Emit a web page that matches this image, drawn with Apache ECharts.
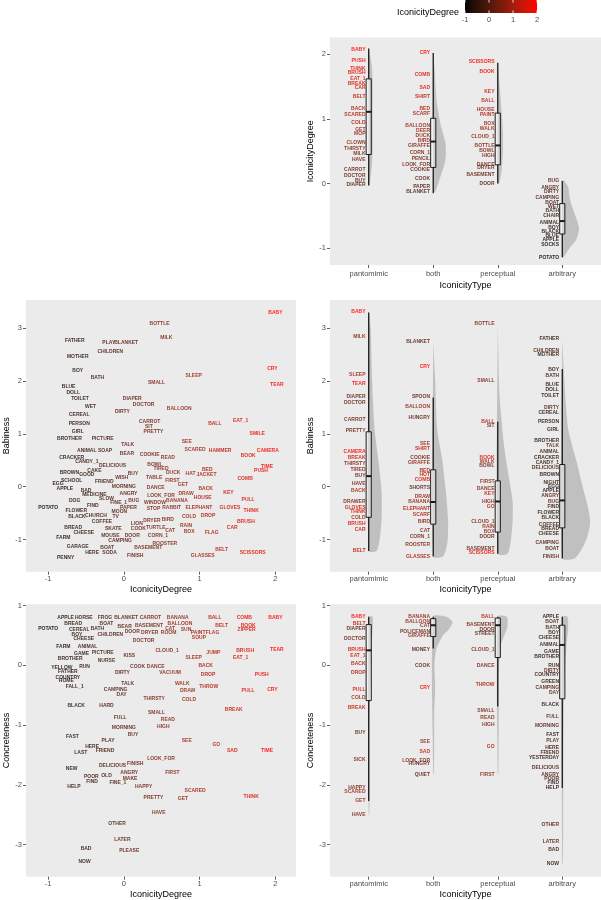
<!DOCTYPE html>
<html>
<head>
<meta charset="utf-8">
<script src="https://cdn.jsdelivr.net/npm/echarts/dist/echarts.min.js"></script>
<style>
  html, body { margin: 0; padding: 0; background: #fff; }
  #main { width: 601px; height: 900px; }
</style>
</head>
<body>
<div id="main"></div>
<script>
var types = ['pantomimic', 'both', 'perceptual', 'arbitrary'];
var legendTicks = [-1, 0, 1, 2];

// top panel: IconicityDegree by IconicityType  [word, degree]
var topPantomimic = [['BABY',2.07],['PUSH',1.90],['THINK',1.78],['BRUSH',1.71],['EAT_1',1.63],['BREAK',1.55],['CAR',1.48],['BELT',1.35],['BACK',1.16],['SCARED',1.07],['COLD',0.95],['GET',0.83],['MOP',0.78],['CLOWN',0.63],['THIRSTY',0.54],['MILK',0.47],['HAVE',0.37],['CARROT',0.22],['DOCTOR',0.13],['BUY',0.05],['DIAPER',-0.02]];
var topBoth = [['CRY',2.02],['COMB',1.68],['SAD',1.48],['SHIRT',1.35],['BED',1.16],['SCARF',1.08],['BALLOON',0.89],['DEER',0.82],['DUCK',0.74],['BIRD',0.66],['GIRAFFE',0.59],['CORN_1',0.48],['PENCIL',0.38],['LOOK_FOR',0.30],['COOKIE',0.22],['COOK',0.08],['PAPER',-0.05],['BLANKET',-0.13]];
var topPerceptual = [['SCISSORS',1.88],['BOOK',1.73],['KEY',1.43],['BALL',1.28],['HOUSE',1.15],['PAINT',1.06],['BOX',0.92],['WALK',0.85],['CLOUD_1',0.72],['BOTTLE',0.59],['BOWL',0.51],['HIGH',0.44],['DANCE',0.30],['DRYER',0.25],['BASEMENT',0.14],['DOOR',0.0]];
var topArbitrary = [['BUG',0.05],['ANGRY',-0.06],['DIRTY',-0.13],['CAMPING',-0.21],['BOAT',-0.30],['WET',-0.36],['BATH',-0.42],['CHAIR',-0.50],['ANIMAL',-0.60],['BOY',-0.68],['BLACK',-0.74],['BLUE',-0.81],['APPLE',-0.87],['SOCKS',-0.94],['POTATO',-1.14]];
// box stats [lower whisker, q1, median, q3, upper whisker]
var topBoxes = [[-0.03,0.45,1.11,1.62,2.09],[-0.15,0.25,0.65,1.01,2.02],[0.0,0.29,0.59,1.09,1.87],[-1.14,-0.78,-0.58,-0.31,0.04]];
// half violin outline [y, half width]
var topViolins = [
  [[2.09,0.0],[1.8,0.05],[1.5,0.06],[1.2,0.06],[0.9,0.06],[0.6,0.06],[0.3,0.05],[-0.03,0.01]],
  [[2.02,0.0],[1.8,0.02],[1.3,0.05],[0.93,0.11],[0.62,0.19],[0.37,0.19],[0.1,0.11],[-0.13,0.03]],
  [[1.88,0.0],[1.5,0.03],[1.1,0.06],[0.8,0.08],[0.5,0.08],[0.2,0.06],[0.0,0.02]],
  [[0.05,0.02],[-0.05,0.09],[-0.25,0.12],[-0.55,0.22],[-0.7,0.26],[-0.86,0.22],[-1.0,0.11],[-1.14,0.02]]
];

// middle left: [word, IconicityDegree, Babiness]
var babinessWords = [['BABY',2.0,3.29],['BOTTLE',0.47,3.08],['MILK',0.56,2.83],['FATHER',-0.65,2.76],['PLAY',-0.2,2.72],['BLANKET',0.03,2.72],['MOTHER',-0.61,2.47],['CHILDREN',-0.18,2.56],['BOY',-0.61,2.20],['BATH',-0.35,2.07],['CRY',1.96,2.23],['SLEEP',0.92,2.10],['SMALL',0.43,1.98],['TEAR',2.02,1.93],['BLUE',-0.73,1.89],['DOLL',-0.67,1.78],['TOILET',-0.58,1.67],['WET',-0.44,1.51],['DIAPER',0.11,1.67],['DOCTOR',0.26,1.56],['DIRTY',-0.02,1.43],['BALLOON',0.73,1.48],['CEREAL',-0.59,1.36],['CARROT',0.34,1.23],['SIT',0.33,1.13],['PRETTY',0.39,1.04],['PERSON',-0.59,1.20],['GIRL',-0.61,1.05],['BROTHER',-0.72,0.91],['PICTURE',-0.28,0.91],['BALL',1.20,1.20],['EAT_1',1.54,1.25],['SMILE',1.76,1.01],['TALK',0.05,0.79],['SEE',0.83,0.85],
['ANIMAL',-0.49,0.68],['SOAP',-0.25,0.68],['BEAR',0.04,0.63],['SCARED',0.94,0.71],['HAMMER',1.27,0.69],['CAMERA',1.90,0.69],['COOKIE',0.34,0.60],['READ',0.58,0.56],['BOOK',1.64,0.59],['CRACKER',-0.69,0.56],['CANDY_1',-0.49,0.47],['DELICIOUS',-0.15,0.39],['BOWL',0.41,0.42],['TIRED',0.49,0.35],['CAKE',-0.39,0.31],['BED',1.10,0.33],['TIME',1.89,0.38],['PUSH',1.81,0.30],['BROWN',-0.72,0.27],['GOOD',-0.49,0.22],['WISH',-0.03,0.18],['BUY',0.12,0.25],['DUCK',0.65,0.27],['HAT',0.88,0.25],['JACKET',1.09,0.23],['TABLE',0.40,0.18],['FIRST',0.64,0.12],['COMB',1.60,0.15],['SCHOOL',-0.69,0.11],['FRIEND',-0.26,0.09],['GET',0.78,0.03],['EGG',-0.87,0.05],['APPLE',-0.78,-0.04],['MORNING',0.0,0.01],['DANCE',0.42,-0.02],['BACK',1.08,-0.04],['KEY',1.38,-0.11],['BAD',-0.50,-0.08],['MEDICINE',-0.39,-0.15],['SLOW',-0.23,-0.23],['ANGRY',0.06,-0.14],['LOOK_FOR',0.49,-0.16],['DRAW',0.82,-0.14],['HOUSE',1.04,-0.21],['DOG',-0.65,-0.26],['FINE_1',-0.07,-0.30],['BUG',0.13,-0.26],['WINDOW',0.41,-0.30],['BANANA',0.70,-0.26],['PULL',1.64,-0.25],['POTATO',-1.0,-0.39],['FIND',-0.41,-0.35],['PAPER',0.06,-0.39],['STOP',0.39,-0.42],['RABBIT',0.63,-0.40],['ELEPHANT',0.99,-0.39],['GLOVES',1.40,-0.39],['THINK',1.68,-0.46],['FLOWER',-0.63,-0.46],['MOON',-0.06,-0.47],['BLACK',-0.62,-0.56],['CHURCH',-0.37,-0.54],['TV',-0.11,-0.56],['DRYER',0.37,-0.64],['BIRD',0.58,-0.63],['COLD',0.86,-0.56],['DROP',1.11,-0.54],['BRUSH',1.61,-0.67],['COFFEE',-0.29,-0.67],['LION',0.17,-0.70],['RAIN',0.82,-0.73],['CAR',1.43,-0.78],['BREAD',-0.67,-0.77],['SKATE',-0.14,-0.79],['COOK',0.19,-0.79],['TURTLE',0.42,-0.78],['CAT',0.61,-0.83],['BOX',0.86,-0.85],['FLAG',1.16,-0.87],['CHEESE',-0.53,-0.87],['MOUSE',-0.18,-0.92],['DOOR',0.11,-0.93],['CORN_1',0.45,-0.92],['FARM',-0.80,-0.97],['CAMPING',-0.05,-1.03],['ROOSTER',0.54,-1.08],['GARAGE',-0.61,-1.13],['BOAT',-0.22,-1.16],['BASEMENT',0.32,-1.16],['BELT',1.29,-1.20],['HERE',-0.42,-1.25],['SODA',-0.19,-1.25],['SCISSORS',1.70,-1.25],['FINISH',0.15,-1.30],['GLASSES',1.04,-1.30],['PENNY',-0.77,-1.35]];

// middle right: Babiness by IconicityType  [word, babiness]
var babyPantomimic = [['BABY',3.31],['MILK',2.84],['SLEEP',2.12],['TEAR',1.95],['DIAPER',1.71],['DOCTOR',1.59],['CARROT',1.27],['PRETTY',1.07],['CAMERA',0.67],['BREAK',0.56],['THIRSTY',0.43],['TIRED',0.32],['BUY',0.21],['HAVE',0.06],['BACK',-0.07],['DRAWER',-0.28],['GLOVES',-0.40],['THINK',-0.48],['COLD',-0.58],['BRUSH',-0.70],['CAR',-0.81],['BELT',-1.22]];
var babyBoth = [['BLANKET',2.74],['CRY',2.27],['SPOON',1.70],['BALLOON',1.51],['HUNGRY',1.31],['SEE',0.81],['SHIRT',0.72],['COOKIE',0.56],['GIRAFFE',0.45],['BED',0.31],['HOT',0.22],['COMB',0.13],['SHORTS',-0.01],['DRAW',-0.18],['BANANA',-0.29],['ELEPHANT',-0.42],['SCARF',-0.53],['BIRD',-0.66],['CAT',-0.84],['CORN_1',-0.94],['ROOSTER',-1.10],['GLASSES',-1.32]];
var babyPerceptual = [['BOTTLE',3.09],['SMALL',2.00],['BALL',1.23],['SIT',1.15],['BOOK',0.56],['WALK',0.48],['BOWL',0.40],['FIRST',0.09],['DANCE',-0.04],['KEY',-0.14],['HIGH',-0.28],['GO',-0.37],['CLOUD_1',-0.66],['RAIN',-0.75],['BOX',-0.86],['DOOR',-0.95],['BASEMENT',-1.17],['SCISSORS',-1.25]];
var babyArbitrary = [['FATHER',2.80],['CHILDREN',2.58],['MOTHER',2.50],['BOY',2.21],['BATH',2.10],['BLUE',1.94],['DOLL',1.83],['TOILET',1.72],['DIRTY',1.49],['CEREAL',1.40],['PERSON',1.23],['GIRL',1.08],['BROTHER',0.88],['TALK',0.78],['ANIMAL',0.66],['CRACKER',0.55],['CANDY_1',0.46],['DELICIOUS',0.36],['BROWN',0.23],['NIGHT',0.08],['EGG',0.01],['APPLE',-0.08],['ANGRY',-0.17],['BUG',-0.29],['FIND',-0.37],['FLOWER',-0.50],['BLACK',-0.59],['COFFEE',-0.71],['BREAD',-0.80],['CHEESE',-0.89],['CAMPING',-1.06],['BOAT',-1.18],['FINISH',-1.33]];
var babyBoxes = [[-1.22,-0.58,0.20,1.04,3.30],[-1.32,-0.71,-0.29,0.32,1.69],[-1.27,-0.86,-0.28,0.11,1.23],[-1.36,-0.78,-0.26,0.42,2.23]];
var babyViolins = [
  [[3.31,0.0],[3.0,0.03],[2.1,0.05],[1.1,0.09],[0.5,0.15],[-0.1,0.2],[-0.6,0.2],[-1.0,0.17],[-1.22,0.12]],
  [[2.74,0.0],[2.0,0.03],[1.1,0.06],[0.5,0.14],[-0.15,0.2],[-0.65,0.23],[-1.05,0.22],[-1.32,0.15]],
  [[3.09,0.0],[1.7,0.03],[0.75,0.1],[0.12,0.18],[-0.28,0.23],[-0.66,0.23],[-1.04,0.2],[-1.27,0.15]],
  [[2.8,0.0],[2.05,0.03],[1.1,0.09],[0.48,0.22],[-0.02,0.32],[-0.4,0.4],[-0.7,0.43],[-1.04,0.36],[-1.35,0.2]]
];

// bottom left: [word, IconicityDegree, Concreteness]
var concretenessWords = [['APPLE',-0.77,0.79],['HORSE',-0.53,0.79],['FROG',-0.25,0.79],['BLANKET',0.03,0.79],['CARROT',0.35,0.79],['BANANA',0.71,0.79],['BALL',1.20,0.79],['COMB',1.59,0.79],['BABY',2.0,0.79],['BREAD',-0.67,0.69],['BOAT',-0.23,0.70],['BALLOON',0.74,0.69],['BELT',1.29,0.67],['BOOK',1.64,0.67],['POTATO',-1.0,0.61],['CEREAL',-0.59,0.59],['BATH',-0.35,0.61],['BEAR',0.01,0.64],['BASEMENT',0.33,0.66],['CAT',0.61,0.62],['SUN',0.82,0.59],['ZIPPER',1.62,0.59],['BOY',-0.62,0.52],['CHILDREN',-0.18,0.52],['DOOR',0.11,0.56],['DRYER',0.34,0.54],['ROOM',0.59,0.54],['PAINT',0.98,0.54],['FLAG',1.17,0.54],['SOUP',0.99,0.46],['CHEESE',-0.53,0.44],['DOCTOR',0.26,0.41],['FARM',-0.80,0.31],['ANIMAL',-0.48,0.32],['PICTURE',-0.28,0.22],['GAME',-0.56,0.20],['KISS',0.07,0.17],['CLOUD_1',0.57,0.24],['JUMP',1.18,0.22],['BRUSH',1.60,0.24],['TEAR',2.02,0.26],['BROTHER',-0.71,0.11],['NURSE',-0.23,0.07],['SLEEP',0.92,0.13],['EAT_1',1.54,0.12],['YELLOW',-0.82,-0.04],['RUN',-0.52,-0.02],['FATHER',-0.74,-0.11],['COOK',0.18,-0.02],['DANCE',0.42,-0.02],['BACK',1.08,-0.01],['DIRTY',-0.02,-0.13],['VACUUM',0.61,-0.13],['DROP',1.11,-0.15],['PUSH',1.82,-0.15],['COUNTRY',-0.74,-0.20],['HOME',-0.76,-0.26],['FALL_1',-0.65,-0.35],['TALK',0.05,-0.31],['CAMPING',-0.11,-0.40],['DAY',-0.03,-0.49],['WALK',0.77,-0.31],['THROW',1.12,-0.35],['DRAW',0.84,-0.43],['PULL',1.64,-0.43],['CRY',1.96,-0.40],['THIRSTY',0.40,-0.56],['COLD',0.86,-0.57],['BLACK',-0.63,-0.67],['HARD',-0.23,-0.67],['BREAK',1.45,-0.74],['SMALL',0.43,-0.79],['FULL',-0.05,-0.88],['READ',0.58,-0.91],['HIGH',0.52,-1.03],['MORNING',0.0,-1.05],['BUY',0.12,-1.16],['FAST',-0.68,-1.19],['PLAY',-0.21,-1.26],['SEE',0.83,-1.26],['GO',1.22,-1.33],['HERE',-0.42,-1.36],['SAD',1.43,-1.43],['TIME',1.89,-1.43],['LAST',-0.57,-1.46],['FRIEND',-0.25,-1.43],['LOOK_FOR',0.49,-1.56],['DELICIOUS',-0.15,-1.67],['FINISH',0.15,-1.65],['NEW',-0.69,-1.73],['FIRST',0.64,-1.79],['ANGRY',0.07,-1.79],['POOR',-0.43,-1.86],['OLD',-0.23,-1.85],['MAKE',0.08,-1.90],['FIND',-0.42,-1.95],['FINE_1',-0.08,-1.96],['HELP',-0.66,-2.03],['HAPPY',0.26,-2.03],['SCARED',0.94,-2.10],['PRETTY',0.39,-2.22],['GET',0.78,-2.23],['THINK',1.68,-2.20],['HAVE',0.46,-2.47],['OTHER',-0.09,-2.64],['LATER',-0.02,-2.92],['BAD',-0.50,-3.06],['PLEASE',0.07,-3.10],['NOW',-0.52,-3.29]];

// bottom right: Concreteness by IconicityType  [word, concreteness]
var concPantomimic = [['BABY',0.81],['BELT',0.70],['DIAPER',0.61],['DOCTOR',0.45],['BRUSH',0.27],['EAT_1',0.16],['BACK',0.03],['DROP',-0.12],['PULL',-0.40],['COLD',-0.54],['BREAK',-0.71],['BUY',-1.12],['SICK',-1.57],['HAPPY',-2.05],['SCARED',-2.12],['GET',-2.26],['HAVE',-2.50]];
var concBoth = [['BANANA',0.81],['BALLOON',0.73],['CAT',0.66],['POLICEMAN',0.57],['GIRAFFE',0.49],['MONEY',0.27],['COOK',0.0],['CRY',-0.37],['SEE',-1.27],['SAD',-1.45],['LOOK_FOR',-1.59],['HUNGRY',-1.65],['QUIET',-1.82]];
var concPerceptual = [['BALL',0.81],['BASEMENT',0.68],['DOOR',0.60],['STREET',0.53],['CLOUD_1',0.27],['DANCE',0.0],['THROW',-0.32],['SMALL',-0.75],['READ',-0.87],['HIGH',-0.99],['GO',-1.36],['FIRST',-1.82]];
var concArbitrary = [['APPLE',0.81],['BOAT',0.73],['BATH',0.63],['BOY',0.54],['CHEESE',0.47],['ANIMAL',0.35],['GAME',0.23],['BROTHER',0.15],['RUN',0.0],['DIRTY',-0.09],['COUNTRY',-0.16],['GREEN',-0.27],['CAMPING',-0.37],['DAY',-0.46],['BLACK',-0.65],['FULL',-0.85],['MORNING',-1.01],['FAST',-1.16],['PLAY',-1.26],['HERE',-1.38],['FRIEND',-1.46],['YESTERDAY',-1.54],['DELICIOUS',-1.71],['ANGRY',-1.82],['POOR',-1.90],['FIND',-1.97],['HELP',-2.04],['OTHER',-2.66],['LATER',-2.95],['BAD',-3.09],['NOW',-3.32]];
var concBoxes = [[-2.27,-0.59,0.25,0.68,0.81],[0.28,0.48,0.67,0.78,0.81],[-0.69,0.13,0.67,0.79,0.81],[-2.05,-0.56,0.34,0.67,0.81]];
var concViolins = [
  [[0.81,0.06],[0.6,0.06],[0.3,0.04],[0.0,0.03],[-0.5,0.02],[-1.0,0.015],[-1.5,0.015],[-2.0,0.015],[-2.5,0.01]],
  [[0.81,0.2],[0.72,0.3],[0.6,0.24],[0.5,0.15],[0.28,0.05],[0.0,0.02],[-0.37,0.03],[-0.8,0.015],[-1.3,0.015],[-1.82,0.01]],
  [[0.81,0.14],[0.65,0.15],[0.5,0.1],[0.35,0.05],[0.0,0.02],[-0.5,0.015],[-1.0,0.015],[-1.82,0.01]],
  [[0.81,0.08],[0.6,0.09],[0.4,0.07],[0.05,0.045],[-0.5,0.025],[-1.0,0.02],[-2.0,0.015],[-3.32,0.01]]
];

// degree of words that only show up in the by-type panels
var extraIconicity = [['DRAWER',0.4],['SPOON',0.0],['HUNGRY',0.1],['SHORTS',0.1],['HOT',1.2],['NIGHT',-0.4],['POLICEMAN',0.3],['MONEY',-0.1],['SICK',0.5],['QUIET',0.0],['STREET',-0.1],['GREEN',-0.6],['YESTERDAY',-0.6]];

var iconicity = {};
function remember(word, v) { if (!(word in iconicity)) iconicity[word] = v; }
babinessWords.forEach(function (d) { remember(d[0], d[1]); });
concretenessWords.forEach(function (d) { remember(d[0], d[1]); });
[topPantomimic, topBoth, topPerceptual, topArbitrary].forEach(function (g) { g.forEach(function (d) { remember(d[0], d[1]); }); });
extraIconicity.forEach(function (d) { remember(d[0], d[1]); });

// black -> red through Lab, like scale_colour_gradient
function colorFor(v, alpha) {
  var t = Math.max(0, Math.min(1, (v + 1) / 3));
  var L = 53.24 * t, A = 80.09 * t, B = 67.20 * t;
  var fy = (L + 16) / 116, fx = fy + A / 500, fz = fy - B / 200;
  function finv(f) { return f > 6 / 29 ? f * f * f : (f - 16 / 116) / 7.787; }
  var X = 0.95047 * finv(fx), Y = finv(fy), Z = 1.08883 * finv(fz);
  var r = 3.2406 * X - 1.5372 * Y - 0.4986 * Z;
  var g = -0.9689 * X + 1.8758 * Y + 0.0415 * Z;
  var b = 0.0557 * X - 0.2040 * Y + 1.0570 * Z;
  function gam(c) {
    c = Math.max(0, Math.min(1, c));
    return Math.round(255 * (c <= 0.0031308 ? 12.92 * c : 1.055 * Math.pow(c, 1 / 2.4) - 0.055));
  }
  return 'rgba(' + gam(r) + ',' + gam(g) + ',' + gam(b) + ',' + (alpha == null ? 1 : alpha) + ')';
}

var FONT = '"Liberation Sans", Arial, sans-serif';
var LABEL_FONT = 'bold 5px ' + FONT;
var LABEL_ALPHA = 0.85;

function textSeries(gi, items, align) {
  return {
    type: 'custom', xAxisIndex: gi, yAxisIndex: gi, z: 5, silent: true,
    data: items.map(function (d) { return [d.x, d.y]; }),
    renderItem: function (params, api) {
      var d = items[params.dataIndex];
      var p = api.coord([d.x, d.y]);
      return {
        type: 'text', x: p[0], y: p[1],
        style: {
          text: d.word, fill: colorFor(d.c, LABEL_ALPHA), font: LABEL_FONT,
          align: align, verticalAlign: 'middle', textAlign: align, textVerticalAlign: 'middle'
        }
      };
    }
  };
}

function typeItems(groups, valueIsDegree) {
  var out = [];
  groups.forEach(function (g, i) {
    g.forEach(function (d) {
      out.push({ word: d[0], x: i + 1 - 0.05, y: d[1], c: valueIsDegree ? d[1] : iconicity[d[0]] });
    });
  });
  return out;
}

function scatterItems(rows) {
  return rows.map(function (d) { return { word: d[0], x: d[1], y: d[2], c: d[1] }; });
}

function violinSeries(gi, profiles, boxes) {
  return {
    type: 'custom', xAxisIndex: gi, yAxisIndex: gi, z: 3, silent: true,
    data: boxes.map(function (b, i) { return [i + 1, b[2]]; }),
    renderItem: function (params, api) {
      var i = params.dataIndex, x = i + 1, prof = profiles[i], b = boxes[i];
      var pts = [api.coord([x, prof[0][0]])];
      prof.forEach(function (p) { pts.push(api.coord([x + p[1], p[0]])); });
      pts.push(api.coord([x, prof[prof.length - 1][0]]));
      var c = function (y) { return api.coord([x, y]); };
      var hw = 0.04;
      var lt = api.coord([x - hw, b[3]]), rb = api.coord([x + hw, b[1]]);
      var ml = api.coord([x - hw, b[2]]), mr = api.coord([x + hw, b[2]]);
      var stroke = '#1a1a1a';
      return {
        type: 'group', children: [
          { type: 'polygon', shape: { points: pts, smooth: 0.25 }, style: { fill: '#BEBEBE', opacity: 0.95 } },
          { type: 'line', shape: { x1: c(b[0])[0], y1: c(b[0])[1], x2: c(b[1])[0], y2: c(b[1])[1] }, style: { stroke: stroke, lineWidth: 1.3 } },
          { type: 'line', shape: { x1: c(b[3])[0], y1: c(b[3])[1], x2: c(b[4])[0], y2: c(b[4])[1] }, style: { stroke: stroke, lineWidth: 1.3 } },
          { type: 'rect', shape: { x: lt[0], y: lt[1], width: rb[0] - lt[0], height: rb[1] - lt[1] }, style: { fill: 'rgba(255,255,255,0.35)', stroke: stroke, lineWidth: 1 } },
          { type: 'line', shape: { x1: ml[0], y1: ml[1], x2: mr[0], y2: mr[1] }, style: { stroke: stroke, lineWidth: 2 } }
        ]
      };
    }
  };
}

var legendSeries = {
  type: 'custom', xAxisIndex: 5, yAxisIndex: 5, silent: true,
  data: [[-1, 0], [2, 1]],
  renderItem: function (params, api) {
    if (params.dataIndex > 0) return null;
    var a = api.coord([-1, 0]), b = api.coord([2, 1]);
    var stops = [];
    for (var k = 0; k <= 12; k++) stops.push({ offset: k / 12, color: colorFor(-1 + 3 * k / 12, 1) });
    var kids = [{ type: 'rect', shape: { x: a[0], y: b[1], width: b[0] - a[0], height: a[1] - b[1] },
      style: { fill: new echarts.graphic.LinearGradient(0, 0, 1, 0, stops) } }];
    legendTicks.forEach(function (v) {
      var lo = api.coord([v, 0]), hi = api.coord([v, 1]);
      kids.push({ type: 'line', shape: { x1: lo[0], y1: lo[1], x2: lo[0], y2: lo[1] - 2.6 }, style: { stroke: '#fff', lineWidth: 0.8 } });
      kids.push({ type: 'line', shape: { x1: hi[0], y1: hi[1], x2: hi[0], y2: hi[1] + 2.6 }, style: { stroke: '#fff', lineWidth: 0.8 } });
    });
    return { type: 'group', children: kids };
  }
};

function panelGrid(left, top, width, height) {
  return { left: left, top: top, width: width, height: height, show: true, backgroundColor: '#EBEBEB', borderWidth: 0, containLabel: false };
}

function valueAxis(gi, min, max, ticks, name, gap, labelMargin) {
  return {
    type: 'value', gridIndex: gi, min: min, max: max,
    name: name, nameLocation: 'middle', nameGap: gap,
    nameTextStyle: { color: '#000', fontSize: 9, fontFamily: FONT },
    axisLine: { show: false, onZero: false },
    axisTick: { show: true, length: 3, customValues: ticks, lineStyle: { color: '#333', width: 0.8 } },
    axisLabel: { color: '#4D4D4D', fontSize: 7.5, fontFamily: FONT, margin: labelMargin, customValues: ticks },
    splitLine: { show: false }
  };
}

function typeAxis(gi, name, gap, labelMargin) {
  var ax = valueAxis(gi, 0.4, 4.6, [1, 2, 3, 4], name, gap, labelMargin);
  ax.axisLabel.formatter = function (v) { return types[Math.round(v) - 1]; };
  return ax;
}

var chart = echarts.init(document.getElementById('main'));

var option = {
  animation: false,
  grid: [
    panelGrid(330, 37.5, 271, 227.5),
    panelGrid(26, 300, 270, 271.7),
    panelGrid(330, 300, 271, 271.7),
    panelGrid(26, 604.3, 270, 272.4),
    panelGrid(330, 604.3, 271, 272.4),
    { left: 465, top: 0, width: 72, height: 13, show: false }
  ],
  xAxis: [
    typeAxis(0, 'IconicityType', 16, 5),
    valueAxis(1, -1.293, 2.272, [-1, 0, 1, 2], 'IconicityDegree', 13, 3),
    typeAxis(2, 'IconicityType', 13, 3),
    valueAxis(3, -1.293, 2.272, [-1, 0, 1, 2], 'IconicityDegree', 13, 3),
    typeAxis(4, 'IconicityType', 13, 3),
    { type: 'value', gridIndex: 5, min: -1, max: 2, axisLine: { show: false, onZero: false }, splitLine: { show: false },
      axisTick: { show: false },
      axisLabel: { color: '#4D4D4D', fontSize: 7.5, fontFamily: FONT, margin: 3, customValues: legendTicks } }
  ],
  yAxis: [
    valueAxis(0, -1.26, 2.26, [-1, 0, 1, 2], 'IconicityDegree', 14, 4),
    valueAxis(1, -1.61, 3.536, [-1, 0, 1, 2, 3], 'Babiness', 14, 4),
    valueAxis(2, -1.61, 3.536, [-1, 0, 1, 2, 3], 'Babiness', 14, 4),
    valueAxis(3, -3.535, 1.02, [-3, -2, -1, 0, 1], 'Concreteness', 14, 4),
    valueAxis(4, -3.535, 1.02, [-3, -2, -1, 0, 1], 'Concreteness', 14, 4),
    { type: 'value', gridIndex: 5, min: 0, max: 1, show: false }
  ],
  graphic: [
    { type: 'text', left: 397, top: 8, style: { text: 'IconicityDegree', fill: '#000', font: '9px ' + FONT } }
  ],
  series: [
    violinSeries(0, topViolins, topBoxes),
    textSeries(0, typeItems([topPantomimic, topBoth, topPerceptual, topArbitrary], true), 'right'),
    textSeries(1, scatterItems(babinessWords), 'center'),
    violinSeries(2, babyViolins, babyBoxes),
    textSeries(2, typeItems([babyPantomimic, babyBoth, babyPerceptual, babyArbitrary], false), 'right'),
    textSeries(3, scatterItems(concretenessWords), 'center'),
    violinSeries(4, concViolins, concBoxes),
    textSeries(4, typeItems([concPantomimic, concBoth, concPerceptual, concArbitrary], false), 'right'),
    legendSeries
  ]
};

chart.setOption(option);
</script>
</body>
</html>
